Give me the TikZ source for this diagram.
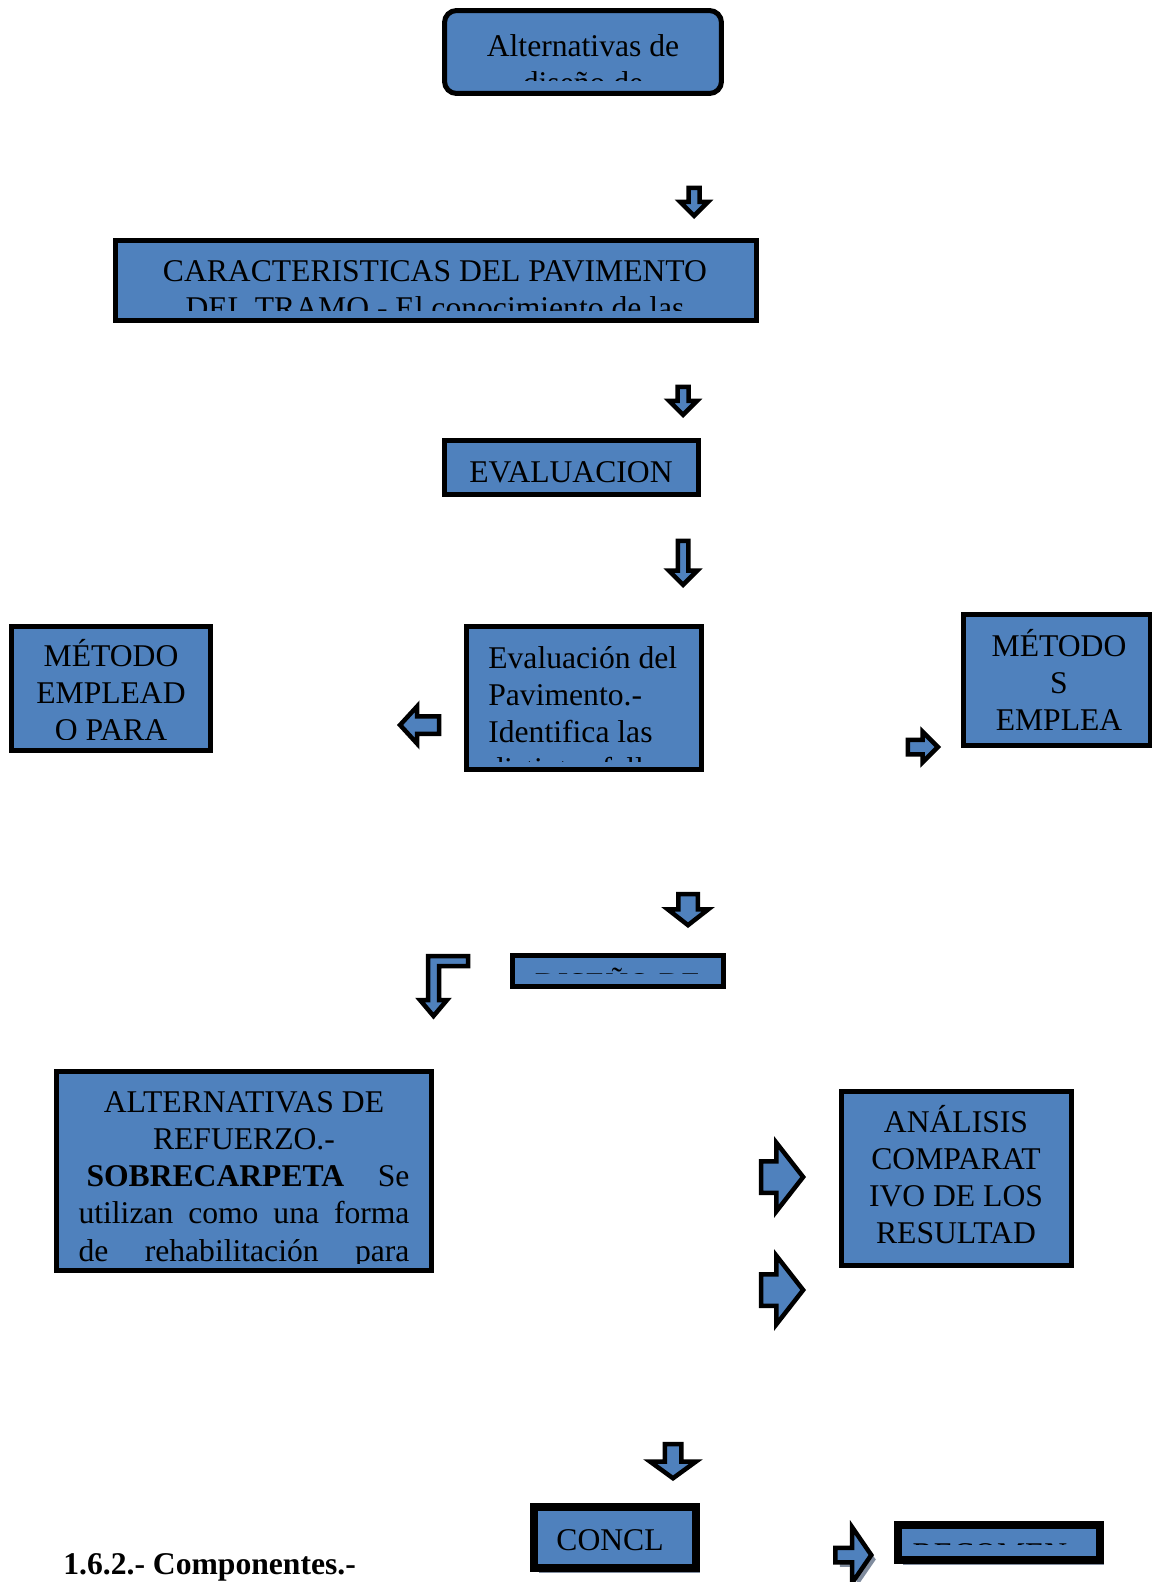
\documentclass[tikz,border=0pt]{standalone}
\usepackage{fontspec}
\setmainfont{Liberation Serif}
\usetikzlibrary{shapes.arrows,shadows}
\definecolor{boxblue}{RGB}{79,129,189}
\definecolor{shadowgray}{RGB}{128,140,158}

\begin{document}
\begin{tikzpicture}[x=0.02cm, y=-0.02cm,
    box/.style={draw=black, fill=boxblue, line width=0.1cm, inner sep=0pt},
    boxtext/.style={font=\fontsize{18}{21.2}\selectfont, inner sep=0pt, align=center, anchor=base},
    blockarrow/.style={single arrow, draw=black, fill=boxblue, line width=0.09cm,
        inner xsep=0pt, minimum width=0pt, single arrow head indent=0pt, anchor=tip},
    shadowed/.style={drop shadow={shadow xshift=0.09cm, shadow yshift=-0.09cm, fill=shadowgray, opacity=1}}]
    \useasboundingbox (0,0) rectangle (1152,1582);

    % Top: Alternativas de diseño
    \node[box, rounded corners=0.24cm, minimum width=5.54cm, minimum height=1.66cm] (alt) at (583,52) {};
    \begin{scope}
        \clip (449,14) rectangle (717,80);
        \node[boxtext] (altText) at (583,93.3) {Alternativas de\\diseño de};
    \end{scope}
    \node[blockarrow, rotate=-90, minimum height=0.56cm, inner ysep=0.065cm, single arrow head extend=0.17cm] (arrA) at (694,219) {};

    % Caracteristicas del pavimento
    \node[box, minimum width=12.82cm, minimum height=1.60cm] (carac) at (436,280.5) {};
    \begin{scope}
        \clip (120,244) rectangle (752,310);
        \node[boxtext] (caracText) at (435,318.3) {CARACTERISTICAS DEL PAVIMENTO\\DEL TRAMO.- El conocimiento de las};
    \end{scope}
    \node[blockarrow, rotate=-90, minimum height=0.56cm, inner ysep=0.065cm, single arrow head extend=0.17cm] (arrB) at (683,418) {};

    % Evaluacion
    \node[box, minimum width=5.08cm, minimum height=1.08cm] (eval) at (571.5,467.5) {};
    \node[boxtext] (evalText) at (571,482) {EVALUACION};
    \node[blockarrow, rotate=-90, minimum height=0.88cm, inner ysep=0.06cm, single arrow head extend=0.18cm] (arrC) at (683,588) {};

    % Evaluacion del pavimento, with the two methods
    \node[box, minimum width=4.70cm, minimum height=2.86cm] (evalPav) at (584,698) {};
    \begin{scope}
        \clip (470,630) rectangle (698,761);
        \node[boxtext, align=left, anchor=base west] (evalPavText) at (488,779.9) {Evaluación del\\Pavimento.-\\Identifica las\\distintas fallas};
    \end{scope}
    \node[box, minimum width=3.98cm, minimum height=2.48cm] (metodoL) at (111,688.5) {};
    \begin{scope}
        \clip (15,630) rectangle (207,739);
        \node[boxtext] (metodoLText) at (111,740.6) {MÉTODO\\EMPLEAD\\O PARA};
    \end{scope}
    \node[blockarrow, rotate=180, minimum height=0.78cm, inner ysep=0.13cm, single arrow head extend=0.2cm, single arrow tip angle=95] (arrD) at (397,725) {};
    \node[box, minimum width=3.75cm, minimum height=2.62cm] (metodoR) at (1057.25,680) {};
    \node[boxtext] (metodoRText) at (1059,730.6) {MÉTODO\\S\\EMPLEA};
    \node[blockarrow, minimum height=0.60cm, inner ysep=0.10cm, single arrow head extend=0.16cm] (arrE) at (941,747) {};

    % Diseño de refuerzo
    \node[blockarrow, rotate=-90, minimum height=0.62cm, inner ysep=0.15cm, single arrow head extend=0.21cm, single arrow tip angle=104] (arrF) at (688,928) {};
    \node[box, minimum width=4.22cm, minimum height=0.62cm] (diseno) at (618,971) {};
    \begin{scope}
        \clip (515,958) rectangle (721,973);
        \node[boxtext] (disenoText) at (618,994) {DISEÑO DE};
    \end{scope}
    \draw[draw=black, fill=boxblue, line width=0.09cm] (428,1000) -- (428,956) -- (468,956) -- (468,966)
        -- (439,966) -- (439,1000) -- (447,1000) -- (433.5,1016) -- (420,1000) -- cycle;

    % Alternativas de refuerzo and analisis comparativo
    \node[box, minimum width=7.50cm, minimum height=3.98cm] (altRef) at (244,1171) {};
    \begin{scope}
        \clip (60,1075) rectangle (428,1263);
        \node[boxtext] (altRefText) at (244,1261.2) {ALTERNATIVAS DE\\REFUERZO.-\\
            \hbox to 6.62cm{\hspace{0.16cm}\textbf{SOBRECARPETA}\hfill Se}\\
            \hbox to 6.62cm{utilizan\hfill como\hfill una\hfill forma}\\
            \hbox to 6.62cm{de\hfill rehabilitación\hfill para}};
    \end{scope}
    \node[blockarrow, minimum height=0.84cm, inner ysep=0.27cm, single arrow head extend=0.37cm, single arrow tip angle=104] (arrG) at (806,1177) {};
    \node[blockarrow, minimum height=0.84cm, inner ysep=0.27cm, single arrow head extend=0.37cm, single arrow tip angle=104] (arrH) at (806,1290) {};
    \node[box, minimum width=4.60cm, minimum height=3.48cm] (analisis) at (956.5,1178.5) {};
    \node[boxtext] (analisisText) at (956,1243.9) {ANÁLISIS\\COMPARAT\\IVO DE LOS\\RESULTAD};

    % Conclusiones
    \node[blockarrow, rotate=-90, minimum height=0.68cm, inner ysep=0.12cm, single arrow head extend=0.29cm, single arrow tip angle=108] (arrI) at (673,1481) {};
    \node[box, shadowed, line width=0.16cm, minimum width=3.24cm, minimum height=1.22cm] (concl) at (615,1537.5) {};
    \node[boxtext] (conclText) at (610,1550) {CONCL};
    \node[blockarrow, shadowed, minimum height=0.72cm, inner ysep=0.10cm, single arrow head extend=0.41cm, single arrow tip angle=111] (arrJ) at (874,1555) {};
    \node[box, shadowed, line width=0.16cm, minimum width=4.04cm, minimum height=0.70cm] (recom) at (999,1542.5) {};
    \begin{scope}
        \clip (904,1531) rectangle (1094,1544);
        \node[boxtext] (recomText) at (990,1564) {RECOMEN};
    \end{scope}

    % Heading below
    \node[boxtext, anchor=base west] (heading) at (63,1574) {\textbf{1.6.2.- Componentes.-}};

\end{tikzpicture}
\end{document}
